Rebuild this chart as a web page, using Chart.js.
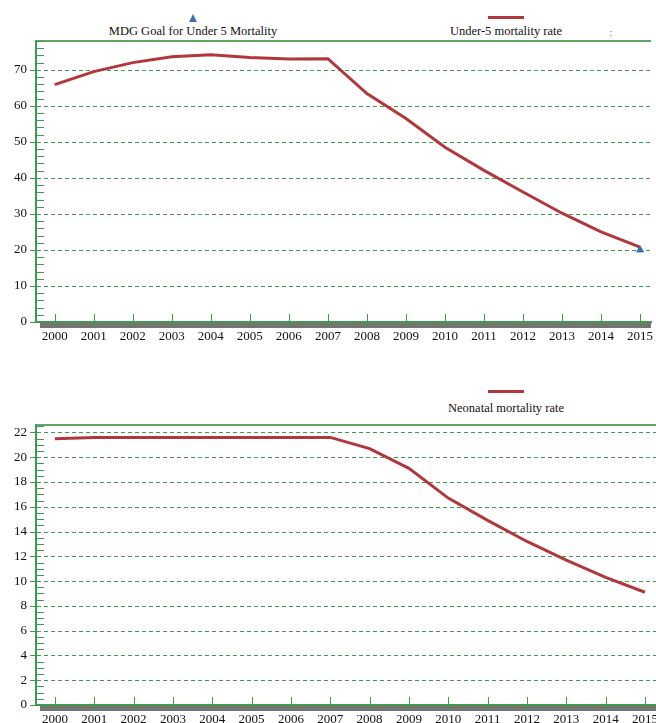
<!DOCTYPE html>
<html>
<head>
<meta charset="utf-8">
<script src="https://cdn.jsdelivr.net/npm/chart.js@4/dist/chart.umd.min.js"></script>
<style>
  body { margin: 0; background: #fff; width: 656px; height: 723px; position: relative; overflow: hidden; font-family: "Liberation Serif", serif; }
  canvas { position: absolute; left: 0; }
  .txt { position: absolute; transform: translateX(-50%); font-size: 12.5px; line-height: 15px; color: #111; white-space: nowrap; }
  .tri { position: absolute; width: 0; height: 0; border-left: 4px solid transparent; border-right: 4px solid transparent; border-bottom: 8px solid #3c6fb4; }
  .bar { position: absolute; width: 36px; height: 3px; background: #b0383c; }
</style>
</head>
<body>
<div class="tri" style="left:189px; top:14px;"></div>
<div class="txt" style="left:193px; top:24px;">MDG Goal for Under 5 Mortality</div>
<div class="bar" style="left:488px; top:16px;"></div>
<div class="txt" style="left:506px; top:24px;">Under-5 mortality rate</div>
<div class="txt" style="left:611px; top:25px; font-size:10px; color:#666;">:</div>
<div class="bar" style="left:488px; top:390px;"></div>
<div class="txt" style="left:506px; top:401px;">Neonatal mortality rate</div>

<canvas id="chartTop" width="656" height="350" style="top:0"></canvas>
<canvas id="chartBottom" width="656" height="363" style="top:360px"></canvas>

<script>
// dane
const years = [2000, 2001, 2002, 2003, 2004, 2005, 2006, 2007, 2008, 2009, 2010, 2011, 2012, 2013, 2014, 2015];
const under5Rate = [65.9, 69.5, 72.0, 73.6, 74.2, 73.4, 73.0, 73.1, 63.4, 56.5, 48.5, 42.1, 36.1, 30.2, 25.0, 20.8];
const neonatalRate = [21.5, 21.6, 21.6, 21.6, 21.6, 21.6, 21.6, 21.6, 20.7, 19.1, 16.7, 14.9, 13.2, 11.7, 10.3, 9.1];
const mdgGoalYear = 2015;
const mdgGoalValue = 20;

const GREEN = '#3f9a50';
const GRID_GREEN = '#3f9a50';
const RED = '#b0383c';
const FONT = { family: 'Liberation Serif', size: 13 };

function isMajor(v, every) {
  return Math.abs(v / every - Math.round(v / every)) < 1e-6;
}

// przerywane linie siatki (przed rysowaniem serii)
const gridPlugin = {
  id: 'dashGrid',
  beforeDatasetsDraw(chart) {
    const { ctx, chartArea, scales } = chart;
    const every = chart.options.labelEvery;
    ctx.save();
    ctx.strokeStyle = GRID_GREEN;
    ctx.lineWidth = 1;
    ctx.setLineDash([4, 3]);
    ctx.beginPath();
    scales.y.ticks.forEach(t => {
      if (t.value <= 0 || !isMajor(t.value, every)) return;
      const py = Math.round(scales.y.getPixelForValue(t.value)) + 0.5;
      ctx.moveTo(chartArea.left + 1, py);
      ctx.lineTo(chartArea.right, py);
    });
    ctx.stroke();
    ctx.restore();
  }
};

// ramka, szary pasek i znaczniki osi
const framePlugin = {
  id: 'frame',
  afterDraw(chart) {
    const { ctx, chartArea, scales } = chart;
    const every = chart.options.labelEvery;
    ctx.save();
    ctx.fillStyle = '#747474';
    ctx.fillRect(chartArea.left + 4, chartArea.bottom + 1, chartArea.right - chartArea.left - 4, 5);
    ctx.strokeStyle = '#5fa566';
    ctx.lineWidth = 2;
    ctx.beginPath();
    ctx.moveTo(chartArea.left, chartArea.top);
    ctx.lineTo(chartArea.right, chartArea.top);
    ctx.stroke();
    ctx.strokeStyle = GREEN;
    ctx.lineWidth = 1;
    ctx.beginPath();
    scales.x.ticks.forEach(t => {
      const px = Math.round(scales.x.getPixelForValue(t.value)) + 0.5;
      ctx.moveTo(px, chartArea.bottom - 8);
      ctx.lineTo(px, chartArea.bottom + 5);
    });
    scales.y.ticks.forEach(t => {
      const py = Math.round(scales.y.getPixelForValue(t.value)) + 0.5;
      if (isMajor(t.value, every)) {
        ctx.moveTo(chartArea.left - 6, py);
        ctx.lineTo(chartArea.left, py);
      } else {
        ctx.moveTo(chartArea.left, py);
        ctx.lineTo(chartArea.left + 8, py);
      }
    });
    ctx.stroke();
    ctx.restore();
  }
};

function makePoints(values) {
  return years.map((y, i) => ({ x: y, y: values[i] }));
}

function makeChart(id, datasets, yMax, yStep, labelEvery, topPad, xHeight) {
  const ctx = document.getElementById(id).getContext('2d');
  return new Chart(ctx, {
    type: 'line',
    data: { datasets: datasets },
    plugins: [gridPlugin, framePlugin],
    options: {
      labelEvery: labelEvery,
      responsive: false,
      animation: false,
      layout: { padding: { top: topPad, right: 0, left: 0, bottom: 0 } },
      plugins: { legend: { display: false }, tooltip: { enabled: false } },
      scales: {
        x: {
          type: 'linear',
          min: 1999.52,
          max: 2015.28,
          afterBuildTicks: s => { s.ticks = years.map(v => ({ value: v })); },
          afterFit: s => { s.height = xHeight; s.paddingLeft = 0; s.paddingRight = 0; },
          ticks: { color: '#111', font: FONT, padding: 7, maxRotation: 0, autoSkip: false, callback: v => String(v) },
          grid: { drawOnChartArea: false, drawTicks: false, color: GREEN },
          border: { color: GREEN, width: 2 }
        },
        y: {
          min: 0,
          max: yMax,
          afterBuildTicks: s => {
            const list = [];
            for (let v = 0; v <= yMax + 1e-9; v += yStep) list.push({ value: Math.round(v * 100) / 100 });
            s.ticks = list;
          },
          afterFit: s => { s.width = 36; },
          ticks: {
            color: '#111',
            font: FONT,
            padding: 9,
            autoSkip: false,
            callback: v => (isMajor(v, labelEvery) ? v : '')
          },
          grid: { drawOnChartArea: false, drawTicks: false, color: GREEN },
          border: { color: GREEN, width: 2 }
        }
      }
    }
  });
}

// górny wykres: umieralność dzieci do 5 lat
makeChart('chartTop', [
  {
    label: 'MDG Goal for Under 5 Mortality',
    data: [{ x: mdgGoalYear, y: mdgGoalValue }],
    showLine: false,
    pointStyle: 'triangle',
    pointRadius: 4,
    backgroundColor: '#3c6fb4',
    borderColor: '#3c6fb4',
    order: 0
  },
  {
    label: 'Under-5 mortality rate',
    data: makePoints(under5Rate),
    borderColor: RED,
    borderWidth: 3,
    pointRadius: 0,
    tension: 0,
    order: 1
  }
], 78, 2, 10, 41, 28);

// dolny wykres: umieralność noworodków
makeChart('chartBottom', [
  {
    label: 'Neonatal mortality rate',
    data: makePoints(neonatalRate),
    borderColor: RED,
    borderWidth: 3,
    pointRadius: 0,
    tension: 0
  }
], 22.6, 0.5, 2, 65, 18);
</script>
</body>
</html>
